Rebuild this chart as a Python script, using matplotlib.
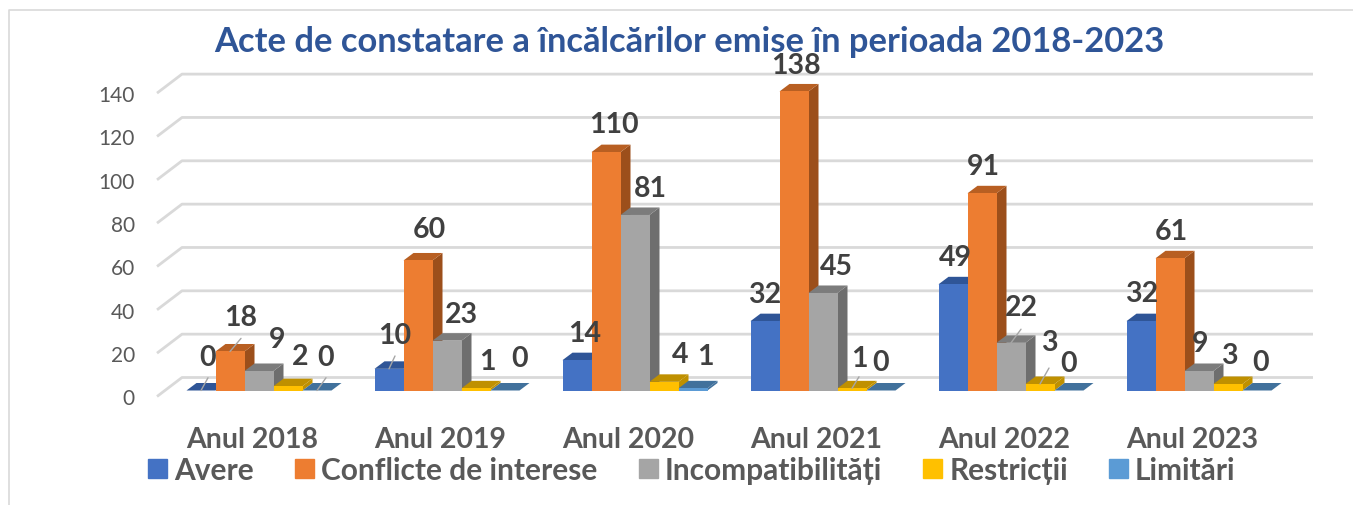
import matplotlib
matplotlib.use('Agg')
import matplotlib.pyplot as plt
from matplotlib.lines import Line2D
from matplotlib.patches import Patch

years = ['Anul 2018', 'Anul 2019', 'Anul 2020', 'Anul 2021', 'Anul 2022', 'Anul 2023']
avere = [0, 10, 14, 32, 49, 32]
conflicte = [18, 60, 110, 138, 91, 61]
incompat = [9, 23, 81, 45, 22, 9]
restrictii = [2, 1, 4, 1, 3, 3]
limitari = [0, 0, 1, 0, 0, 0]
y_ticks = [0, 20, 40, 60, 80, 100, 120, 140]

names = ['Avere', 'Conflicte de interese', 'Incompatibilități', 'Restricții', 'Limitări']
series = [avere, conflicte, incompat, restrictii, limitari]
front = ['#4472C4', '#ED7D31', '#A5A5A5', '#FFC000', '#5B9BD5']
top = ['#2F5597', '#B85F22', '#7C7C7C', '#BF9000', '#41719C']
side = ['#2F5597', '#9C4F1B', '#6E6E6E', '#BF9000', '#41719C']

# label nudges in pixels from the front top centre of each bar
nudges = [
    [(7, 33.5), (11, 34.5), (18, 32), (12, 30.2), (9, 33.5)],
    [(6, 33.8), (11, 31.5), (14, 26.5), (11, 27.3), (15, 32.5)],
    [(8, 27.2), (8, 28.1), (15, 27), (16, 27.8), (12, 32.3)],
    [(0, 27.2), (2, 26.5), (13, 27), (7, 30.3), (0, 28.5)],
    [(2, 27.3), (1, 27.3), (10, 35.8), (9, 42), (0, 27.5)],
    [(1, 28.2), (1, 27.3), (1, 28), (1, 29), (4, 28.5)],
]
# (group, series) pairs that have a leader line
leaders = [(0, 0), (0, 1), (0, 4), (1, 0), (3, 3), (4, 2), (4, 3)]

W, H = 1353, 506
px_x = 188.0    # pixels per group
px_y = 2.167    # pixels per unit
x0_px = 259.0   # centre of first group
y0_px = 391.5   # front base of bars
left_px, right_px, top_px, bottom_px = 157, 1313, 60, 397.5

bar_w = 29 / px_x
dep_x = 10 / px_x
dep_y = 7.5 / px_y
floor_x = 25 / px_x
floor_y = 19 / px_y
back_y = (y0_px - 378.5) / px_y

plt.rcParams['font.family'] = ['Lato', 'DejaVu Sans']

fig = plt.figure(figsize=(W / 100, H / 100), dpi=100)
ax = fig.add_axes([left_px / W, 1 - bottom_px / H, (right_px - left_px) / W, (bottom_px - top_px) / H])
ax.set_xlim((left_px - x0_px) / px_x, (right_px - x0_px) / px_x)
ax.set_ylim((y0_px - bottom_px) / px_y, (y0_px - top_px) / px_y)
for s in ax.spines.values():
    s.set_visible(False)
ax.patch.set_alpha(0)

# gridlines with the slanted piece on the left wall
xl = ax.get_xlim()
for v in y_ticks:
    ax.plot([xl[0], xl[0] + floor_x, xl[1]],
            [v + back_y - floor_y, v + back_y, v + back_y],
            color='#D9D9D9', lw=2, zorder=1, clip_on=False, solid_capstyle='butt')

for i in range(len(years)):
    for j in range(len(series)):
        v = series[j][i]
        x = i + (j - 2.5) * bar_w
        ax.bar(x, v, bar_w, align='edge', color=front[j], zorder=2 + i + j * 0.1 + 0.02)
        ax.fill([x + bar_w, x + bar_w + dep_x, x + bar_w + dep_x, x + bar_w],
                [0, dep_y, v + dep_y, v], color=side[j], lw=0, zorder=2 + i + j * 0.1)
        ax.fill([x, x + dep_x, x + bar_w + dep_x, x + bar_w],
                [v, v + dep_y, v + dep_y, v], color=top[j], lw=0, zorder=2 + i + j * 0.1 + 0.01)
        nx, ny = nudges[i][j]
        ax.annotate(str(v), (x + bar_w / 2, v), xytext=(nx, ny), textcoords='offset pixels',
                    ha='center', va='center', fontsize=20.5, fontweight='bold', color='#404040',
                    zorder=20)
        if (i, j) in leaders:
            ax.annotate('', (x + bar_w / 2, v), xytext=(nx * 1.0, ny * 0.38), textcoords='offset pixels',
                        arrowprops=dict(arrowstyle='-', color='#A6A6A6', lw=1, shrinkA=0, shrinkB=0),
                        zorder=19)

ax.set_yticks([v + back_y - floor_y for v in y_ticks], [str(v) for v in y_ticks])
ax.set_xticks([i - 6.5 / px_x for i in range(len(years))], years)
ax.tick_params(axis='y', length=0, pad=16, labelsize=15, labelcolor='#595959')
ax.tick_params(axis='x', length=0, pad=21, labelsize=20.5)
for t in ax.get_xticklabels():
    t.set_fontweight('bold')
    t.set_color('#595959')

fig.text(689 / W, 1 - 42 / H, 'Acte de constatare a încălcărilor emise în perioada 2018-2023',
         ha='center', va='center', fontsize=24.8, fontweight='bold', color='#2F5597')

handles = [Patch(color=c, label=n) for c, n in zip(front, names)]
leg = fig.legend(handles=handles, loc='center', bbox_to_anchor=(692 / W, 1 - 471 / H), ncol=5,
                 frameon=False, fontsize=21.5, handlelength=0.64, handleheight=0.64,
                 handletextpad=0.23, columnspacing=1.38, borderpad=0)
for t in leg.get_texts():
    t.set_fontweight('bold')
    t.set_color('#595959')

# chart frame, only the top and left edges show
fig.add_artist(Line2D([9 / W, 9 / W, 1], [0, 1 - 10.5 / H, 1 - 10.5 / H],
                      color='#D9D9D9', lw=1.2, transform=fig.transFigure))

fig.savefig('out.png', dpi=100)
